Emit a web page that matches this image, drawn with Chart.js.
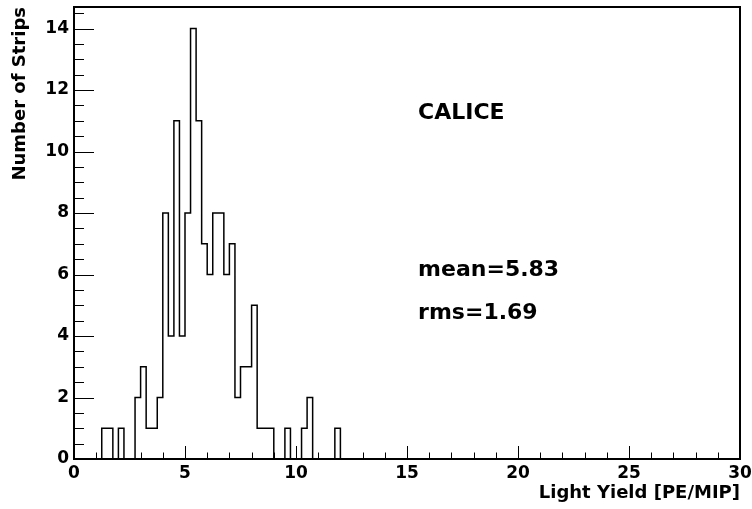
<!DOCTYPE html>
<html>
<head>
<meta charset="utf-8">
<script src="https://cdn.jsdelivr.net/npm/chart.js@4"></script>
<style>
  html, body { margin: 0; padding: 0; background: #fff; }
  canvas { display: block; }
</style>
</head>
<body>
<canvas id="lightYield" width="752" height="509"></canvas>
<script>
// histogram: 0.25 wide bins starting at 0, counts (bins after 12 are empty)
const binLow = 0;
const binWidth = 0.25;
const counts = [0, 0, 0, 0, 0, 1, 1, 0, 1, 0, 0, 2, 3, 1, 1, 2,
                8, 4, 11, 4, 8, 14, 11, 7, 6, 8, 8, 6, 7, 2, 3, 3,
                5, 1, 1, 1, 0, 0, 1, 0, 0, 1, 2, 0, 0, 0, 0, 1];

const xMax = 30;
const yMax = 14.7;
const xTicks = [0, 5, 10, 15, 20, 25, 30];
const yTicks = [0, 2, 4, 6, 8, 10, 12, 14];

// text boxes (data coordinates)
const noteText = ['CALICE', 'mean=5.83', 'rms=1.69'];
const noteX = [15.5, 15.5, 15.5];
const noteY = [11.06, 5.95, 4.54];

const FONT = "'DejaVu Sans', 'Liberation Sans', Arial, sans-serif";

const points = counts.map((c, i) => ({ x: binLow + i * binWidth, y: c }));
points.push({ x: binLow + counts.length * binWidth, y: 0 });
points.push({ x: xMax, y: 0 });

// ROOT style frame, inward ticks and the text boxes
const rootFrame = {
    id: 'rootFrame',
    afterDatasetsDraw(chart) {
        const { ctx, chartArea: a, scales: { x, y } } = chart;
        ctx.save();
        ctx.strokeStyle = '#000';
        ctx.lineWidth = 1;
        ctx.beginPath();
        for (let v = 0; v <= xMax; v += 1) {
            const px = Math.round(x.getPixelForValue(v)) + 0.5;
            const len = v % 5 === 0 ? 13 : 6.5;
            ctx.moveTo(px, a.bottom);
            ctx.lineTo(px, a.bottom - len);
        }
        for (let v = 0; v <= yMax; v += 0.5) {
            const py = Math.round(y.getPixelForValue(v)) + 0.5;
            const len = v % 2 === 0 ? 20 : 10;
            ctx.moveTo(a.left, py);
            ctx.lineTo(a.left + len, py);
        }
        ctx.stroke();
        ctx.lineWidth = 2;
        ctx.strokeRect(a.left, a.top, a.right - a.left, a.bottom - a.top);

        ctx.fillStyle = '#000';
        ctx.font = 'bold 22px ' + FONT;
        ctx.textAlign = 'left';
        ctx.textBaseline = 'alphabetic';
        noteText.forEach((t, i) => {
            ctx.fillText(t, x.getPixelForValue(noteX[i]), y.getPixelForValue(noteY[i]));
        });
        ctx.restore();
    }
};

new Chart(document.getElementById('lightYield').getContext('2d'), {
    type: 'line',
    data: {
        datasets: [{
            data: points,
            stepped: true,
            borderColor: '#000',
            borderWidth: 1.5,
            pointRadius: 0,
            fill: false
        }]
    },
    options: {
        responsive: false,
        animation: false,
        devicePixelRatio: 1,
        layout: { padding: { left: 0, top: 7, right: 12, bottom: 0 } },
        plugins: { legend: { display: false }, tooltip: { enabled: false } },
        scales: {
            x: {
                type: 'linear',
                min: 0, max: xMax,
                grid: { display: false, drawTicks: false },
                border: { display: false },
                afterBuildTicks: s => { s.ticks = xTicks.map(v => ({ value: v })); },
                afterFit: s => { s.height = 50; s.paddingLeft = 0; s.paddingRight = 0; },
                ticks: {
                    color: '#000', padding: 4, maxRotation: 0,
                    font: { family: FONT, size: 17, weight: 'bold' }
                },
                title: {
                    display: true, text: 'Light Yield [PE/MIP]', align: 'end', color: '#000',
                    padding: { top: 0, bottom: 5 },
                    font: { family: FONT, size: 18, weight: 'bold' }
                }
            },
            y: {
                type: 'linear',
                min: 0, max: yMax,
                grid: { display: false, drawTicks: false },
                border: { display: false },
                afterBuildTicks: s => { s.ticks = yTicks.map(v => ({ value: v })); },
                afterFit: s => { s.width = 74; s.paddingTop = 0; s.paddingBottom = 0; },
                ticks: {
                    color: '#000', padding: 5,
                    font: { family: FONT, size: 17, weight: 'bold' }
                },
                title: {
                    display: true, text: 'Number of Strips', align: 'end', color: '#000',
                    padding: { top: 10, bottom: 0 },
                    font: { family: FONT, size: 18, weight: 'bold' }
                }
            }
        }
    },
    plugins: [rootFrame]
});
</script>
</body>
</html>
